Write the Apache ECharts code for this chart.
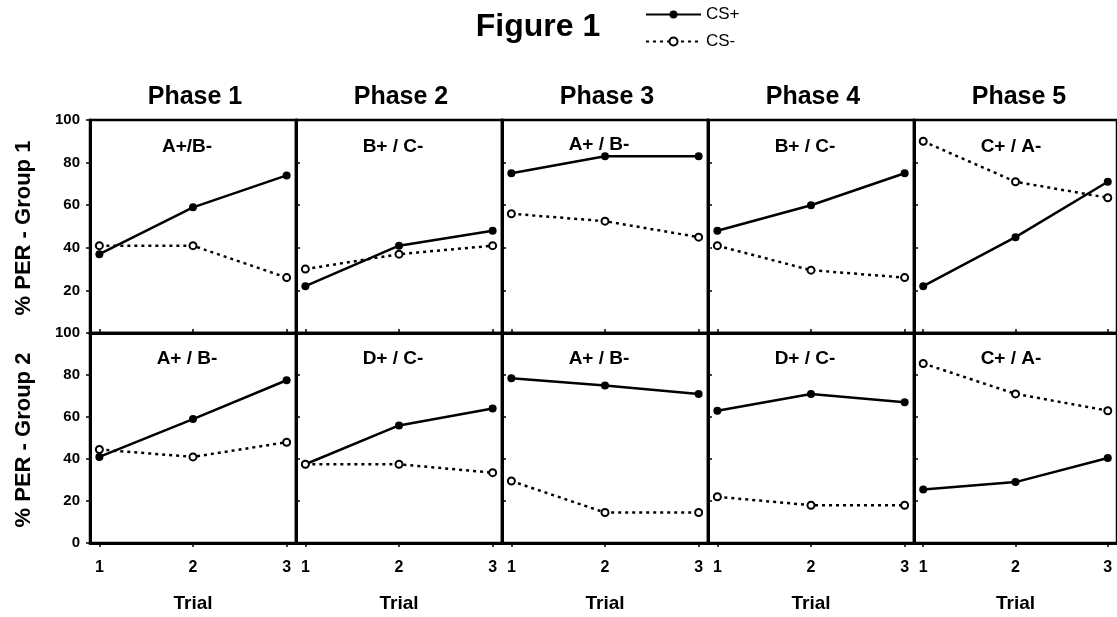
<!DOCTYPE html>
<html>
<head>
<meta charset="utf-8">
<script src="https://cdn.jsdelivr.net/npm/echarts@6/dist/echarts.min.js"></script>
<style>
html,body{margin:0;padding:0;background:#fff;}
#chart{width:1117px;height:617px;}
</style>
</head>
<body>
<div id="chart"></div>
<script>
// ---- data ----
const trials = [1, 2, 3];
const phases = ['Phase 1', 'Phase 2', 'Phase 3', 'Phase 4', 'Phase 5'];
const group1Labels = ['A+/B-', 'B+ / C-', 'A+ / B-', 'B+ / C-', 'C+ / A-'];
const group2Labels = ['A+ / B-', 'D+ / C-', 'A+ / B-', 'D+ / C-', 'C+ / A-'];
const yTicks = [0, 20, 40, 60, 80, 100];
// % PER per phase (trial 1..3)
const g1CSplus  = [[37, 59, 74], [22, 41, 48], [75, 83, 83], [48, 60, 75], [22, 45, 71]];
const g1CSminus = [[41, 41, 26], [30, 37, 41], [56, 52.5, 45], [41, 29.5, 26], [90, 71, 63.5]];
const g2CSplus  = [[41, 59, 77.5], [37.5, 56, 64], [78.5, 75, 71], [63, 71, 67], [25.5, 29, 40.5]];
const g2CSminus = [[44.5, 41, 48], [37.5, 37.5, 33.5], [29.5, 14.5, 14.5], [22, 18, 18], [85.5, 71, 63]];

// ---- layout ----
const FONT = 'Arial, "Liberation Sans", Helvetica, sans-serif';
const panelLeft = [90, 296, 502, 708, 914];
const panelW = 206;
const rowTop = [120, 333];
const rowH = [213, 210];

const grids = [], xAxes = [], yAxes = [], series = [], graphics = [];

for (let r = 0; r < 2; r++) {
  for (let c = 0; c < 5; c++) {
    const idx = r * 5 + c;
    grids.push({
      left: panelLeft[c], top: rowTop[r], width: panelW, height: rowH[r],
      show: true, borderColor: '#000', borderWidth: 2.5, backgroundColor: 'transparent'
    });
    xAxes.push({
      type: 'value', gridIndex: idx, min: 0.9, max: 3.1,
      axisLine: { show: true, onZero: false, lineStyle: { color: '#000', width: 3 } },
      splitLine: { show: false },
      axisTick: { show: true, customValues: trials, inside: r === 0, length: 4, lineStyle: { color: '#000', width: 1.5 } },
      axisLabel: { show: r === 1, customValues: trials, color: '#000', fontFamily: FONT, fontWeight: 'bold', fontSize: 16, margin: 17 },
      name: r === 1 ? 'Trial' : '', nameLocation: 'middle', nameGap: 51,
      nameTextStyle: { color: '#000', fontFamily: FONT, fontWeight: 'bold', fontSize: 19 }
    });
    yAxes.push({
      type: 'value', gridIndex: idx, min: 0, max: 100, interval: 20,
      axisLine: { show: true, lineStyle: { color: '#000', width: 3 } },
      splitLine: { show: false },
      axisTick: { show: true, inside: c > 0, length: 4, lineStyle: { color: '#000', width: 1.5 } },
      axisLabel: {
        show: c === 0, color: '#000', fontFamily: FONT, fontWeight: 'bold', fontSize: 15, margin: 10,
        formatter: v => (r === 0 && v === 0) ? '' : String(v)
      }
    });
    const plus = r === 0 ? g1CSplus[c] : g2CSplus[c];
    const minus = r === 0 ? g1CSminus[c] : g2CSminus[c];
    series.push({
      name: 'CS+', type: 'line', xAxisIndex: idx, yAxisIndex: idx,
      data: trials.map((t, i) => [t, plus[i]]),
      symbol: 'circle', symbolSize: 8, z: 3,
      itemStyle: { color: '#000' },
      lineStyle: { color: '#000', width: 2.5, type: 'solid' },
      silent: true, animation: false
    });
    series.push({
      name: 'CS-', type: 'line', xAxisIndex: idx, yAxisIndex: idx,
      data: trials.map((t, i) => [t, minus[i]]),
      symbol: 'emptyCircle', symbolSize: 7, z: 4,
      itemStyle: { color: '#000', borderColor: '#000', borderWidth: 2 },
      lineStyle: { color: '#000', width: 2.5, type: [3, 4] },
      silent: true, animation: false
    });
    const labels = r === 0 ? group1Labels : group2Labels;
    const ly = r === 0 ? (c === 2 ? 145 : 147) : 359;
    graphics.push({
      type: 'text', x: panelLeft[c] + panelW / 2 - 6, y: ly, z: 10,
      style: { text: labels[c], font: 'bold 19px ' + FONT, fill: '#000',
               align: 'center', verticalAlign: 'middle', textAlign: 'center', textVerticalAlign: 'middle' }
    });
  }
}

phases.forEach((p, c) => {
  graphics.push({
    type: 'text', x: panelLeft[c] + panelW / 2 + 2, y: 97,
    style: { text: p, font: 'bold 25px ' + FONT, fill: '#000',
             align: 'center', verticalAlign: 'middle', textAlign: 'center', textVerticalAlign: 'middle' }
  });
});

graphics.push({
  type: 'text', x: 538, y: 27,
  style: { text: 'Figure 1', font: 'bold 32px ' + FONT, fill: '#000',
           align: 'center', verticalAlign: 'middle', textAlign: 'center', textVerticalAlign: 'middle' }
});
['% PER - Group 1', '% PER - Group 2'].forEach((t, i) => {
  graphics.push({
    type: 'text', x: 24, y: i === 0 ? 228 : 440, rotation: Math.PI / 2,
    style: { text: t, font: 'bold 22px ' + FONT, fill: '#000',
             align: 'center', verticalAlign: 'middle', textAlign: 'center', textVerticalAlign: 'middle' }
  });
});

const chart = echarts.init(document.getElementById('chart'), null, { renderer: 'canvas' });
chart.setOption({
  animation: false,
  backgroundColor: '#fff',
  grid: grids,
  xAxis: xAxes,
  yAxis: yAxes,
  series: series,
  legend: {
    data: ['CS+', 'CS-'], orient: 'vertical', left: 645, top: 6,
    itemWidth: 55, itemHeight: 10, itemGap: 10, padding: 0,
    textStyle: { color: '#000', fontFamily: FONT, fontSize: 17 },
    selectedMode: false
  },
  graphic: graphics
});
</script>
</body>
</html>
